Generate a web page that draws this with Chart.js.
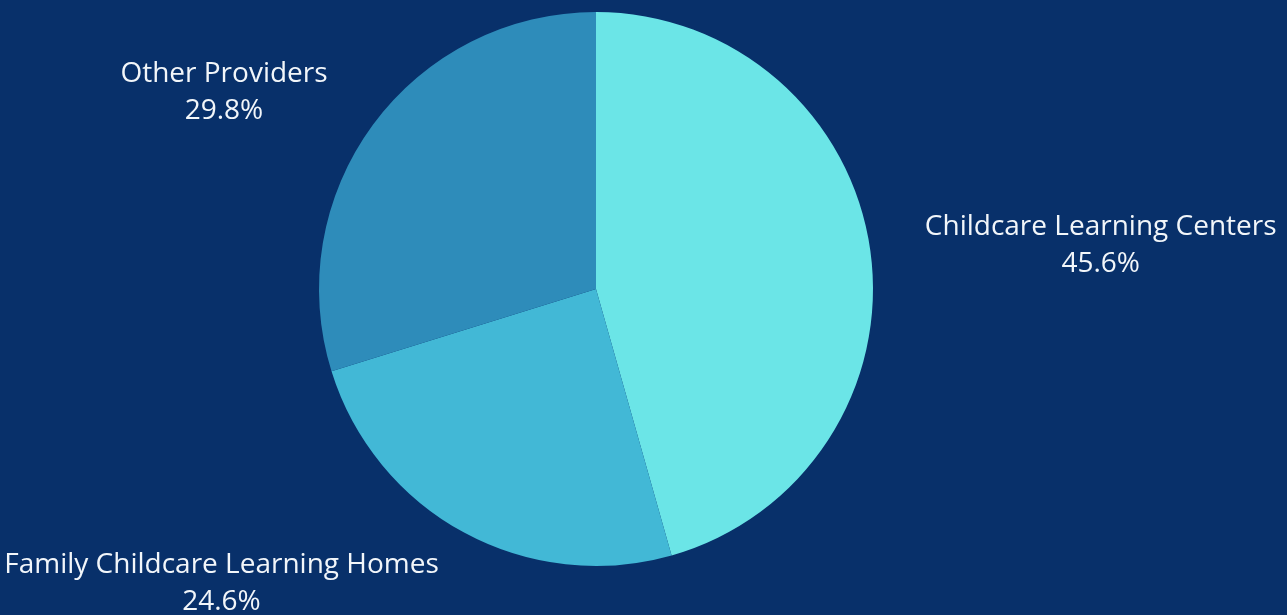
<!DOCTYPE html>
<html>
<head>
<meta charset="utf-8">
<script src="https://cdn.jsdelivr.net/npm/chart.js@4"></script>
<style>
    html, body { margin: 0; padding: 0; background: #08306a; }
    #wrap { width: 1287px; height: 615px; position: relative; }
</style>
</head>
<body>
<div id="wrap"><canvas id="pie"></canvas></div>
<script>
// Share of providers by type
const categories = ['Childcare Learning Centers', 'Family Childcare Learning Homes', 'Other Providers'];
const shares = [45.6, 24.6, 29.8];
const sliceColors = ['#6be5e7', '#42b8d6', '#2e8cba'];

// Label anchor for each slice, in units of the pie radius from its centre
const labelOffsets = [[1.822, -0.157], [-1.352, 1.063], [-1.343, -0.708]];

// Draw two-line labels (name + percent) beside each slice
const sliceLabels = {
    id: 'sliceLabels',
    afterDatasetsDraw(chart) {
        const ctx = chart.ctx;
        const arcs = chart.getDatasetMeta(0).data;
        ctx.save();
        ctx.fillStyle = '#f2f6fa';
        ctx.font = '28px "Open Sans", sans-serif';
        ctx.textAlign = 'center';
        ctx.textBaseline = 'middle';
        arcs.forEach((arc, i) => {
            const r = arc.outerRadius;
            const x = arc.x + labelOffsets[i][0] * r;
            const y = arc.y + labelOffsets[i][1] * r;
            ctx.fillText(categories[i], x, y - 18.5);
            ctx.fillText(shares[i].toFixed(1) + '%', x, y + 18.5);
        });
        ctx.restore();
    }
};

new Chart(document.getElementById('pie'), {
    type: 'pie',
    data: {
        labels: categories,
        datasets: [{
            data: shares,
            backgroundColor: sliceColors,
            borderWidth: 0
        }]
    },
    options: {
        responsive: true,
        maintainAspectRatio: false,
        animation: false,
        layout: {
            padding: { top: 12, bottom: 49, left: 0, right: 95 }
        },
        plugins: {
            legend: { display: false },
            tooltip: { enabled: false }
        }
    },
    plugins: [sliceLabels]
});
</script>
</body>
</html>
